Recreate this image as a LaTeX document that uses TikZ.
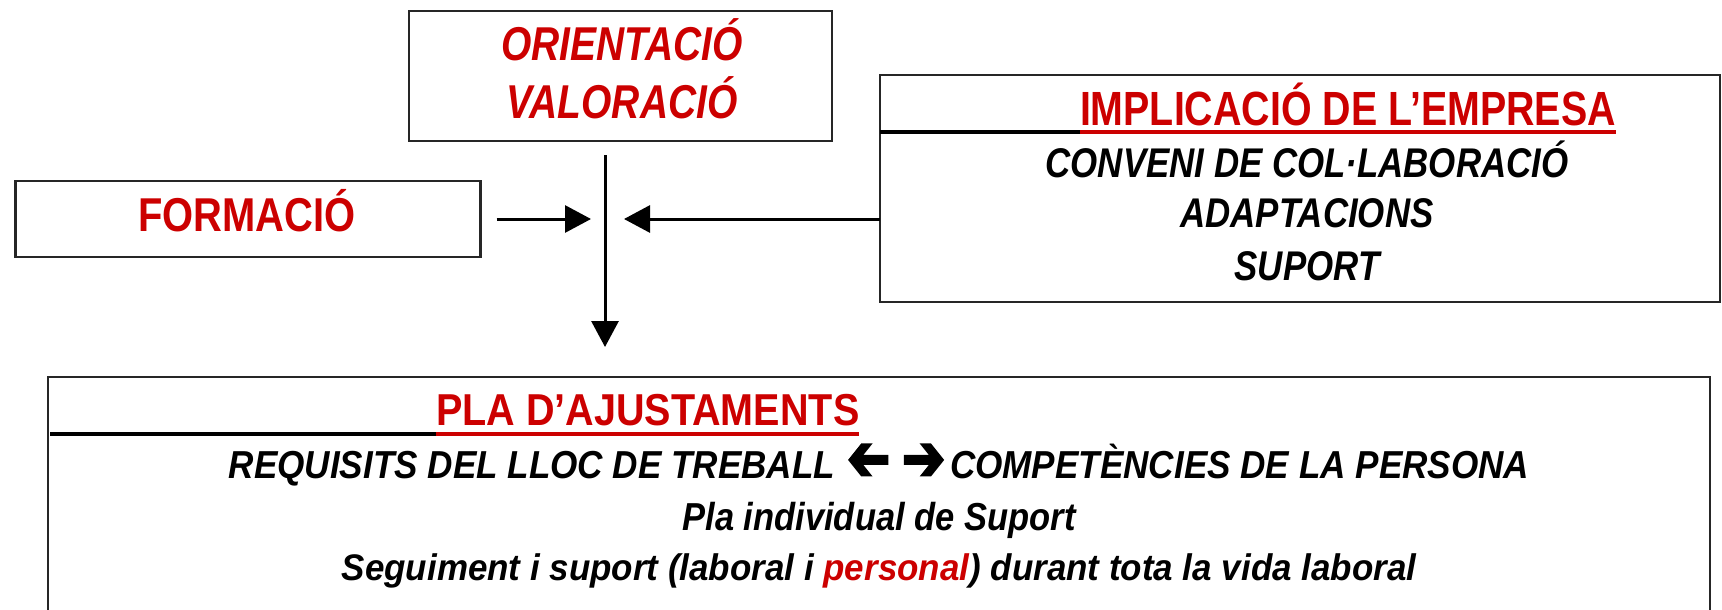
\documentclass[tikz,border=0pt]{standalone}
\usepackage{fontspec}
\usepackage{graphicx}
\setmainfont{Liberation Sans}
\newfontfamily\fsa{Liberation Sans}[FakeStretch=0.82]
\newfontfamily\fsb{Liberation Sans}[FakeStretch=0.84]
\newfontfamily\fsc{Liberation Sans}[FakeStretch=0.885]
\newfontfamily\fsd{Liberation Sans}[FakeStretch=0.90]
\newfontfamily\fse{Liberation Sans}[FakeStretch=0.945]
\newfontfamily\arrowfont{DejaVu Sans}[FakeBold=4,FakeStretch=0.8]
\newcommand\bigarr[1]{\raisebox{-2pt}{\arrowfont\upshape\mdseries\fontsize{64}{64}\selectfont #1}}
\usetikzlibrary{arrows.meta,calc}
\definecolor{tred}{RGB}{204,0,0}
\begin{document}
\begin{tikzpicture}[x=1pt,y=-1pt,
  box/.style={draw=black!85,line width=2.5pt,inner sep=0pt,outer sep=0pt},
  conn/.style={line width=3pt,-{Triangle[length=26pt,width=27pt]}},
  txt/.style={inner sep=0pt,outer sep=0pt,anchor=base},
  redtitle/.style 2 args={txt,text=tred,font=#2\bfseries\fontsize{#1}{#1}\selectfont},
  redital/.style 2 args={txt,text=tred,font=#2\bfseries\itshape\fontsize{#1}{#1}\selectfont},
  blackital/.style 2 args={txt,text=black,font=#2\bfseries\itshape\fontsize{#1}{#1}\selectfont},
  ulblack/.style={line width=3.5pt,black},
  ulred/.style={line width=3.5pt,tred},
 ]
\useasboundingbox (0,0) rectangle (1722,610);
\fill[white] (0,0) rectangle (1722,610);

% boxes
\node[box,minimum width=423pt,minimum height=130pt] (orient) at (620.5,76) {};
\node[box,minimum width=465pt,minimum height=76pt] (formacio) at (248,219) {};
\node[box,minimum width=840pt,minimum height=227pt] (implic) at (1300,188.5) {};
\coordinate (pla) at (879,377);
\draw[draw=black!85,line width=2.5pt] (48,615) -- (48,377) -- (1710,377) -- (1710,615);

% texts
\node[redital={47.5}{\fsa}] (t1) at (622,61) {ORIENTACIÓ};
\node[redital={47.5}{\fsa}] (t2) at (622,118) {VALORACIÓ};
\node[redtitle={47.5}{\fsb}] (tf) at (247,231) {FORMACIÓ};

\node[redtitle={48}{\fsa},anchor=base west] (ti) at (1080,125) {IMPLICACIÓ DE L’EMPRESA};
\draw[ulblack] ($(implic.west|-ti.base)+(0,7)$) -- ($(ti.base west)+(0,7)$);
\draw[ulred] ($(ti.base west)+(0,7)$) -- ($(ti.base east)+(0,7)$);
\node[blackital={41.5}{\fsb}] (c1) at (1307,177) {CONVENI DE COL·LABORACIÓ};
\node[blackital={41.5}{\fsb}] (c2) at (1307,227) {ADAPTACIONS};
\node[blackital={41.5}{\fsb}] (c3) at (1307,280) {SUPORT};

\node[redtitle={44.7}{\fsc},anchor=base west] (tp) at (436,425) {PLA D’AJUSTAMENTS};
\draw[ulblack] (50,434) -- ($(tp.base west)+(0,9)$);
\draw[ulred] ($(tp.base west)+(0,9)$) -- ($(tp.base east)+(0,9)$);
\node[blackital={39}{\fsd}] (p1) at (879,478) {REQUISITS DEL LLOC DE TREBALL\hspace{12pt}\bigarr{\reflectbox{➔}}\hspace{12pt}\bigarr{➔}\hspace{5pt}COMPETÈNCIES DE LA PERSONA};
\node[blackital={39}{\fsc}] (p2) at (879,530) {Pla individual de Suport};
\node[blackital={37}{\fse}] (p3) at (879,580) {Seguiment i suport (laboral i \textcolor{tred}{personal}) durant tota la vida laboral};

% connectors
\coordinate (vtop) at (605,155);
\coordinate (vbot) at ($(pla)+(-274,-30)$);
\draw[conn] (vtop) -- (vbot);
\coordinate (lstart) at ($(formacio.east)+(16,0)$);
\coordinate (ltip) at (591,219);
\draw[conn] (lstart) -- (ltip);
\coordinate (rtip) at (624,219);
\draw[conn] (implic.west|-formacio.east) -- (rtip);
\end{tikzpicture}
\end{document}
